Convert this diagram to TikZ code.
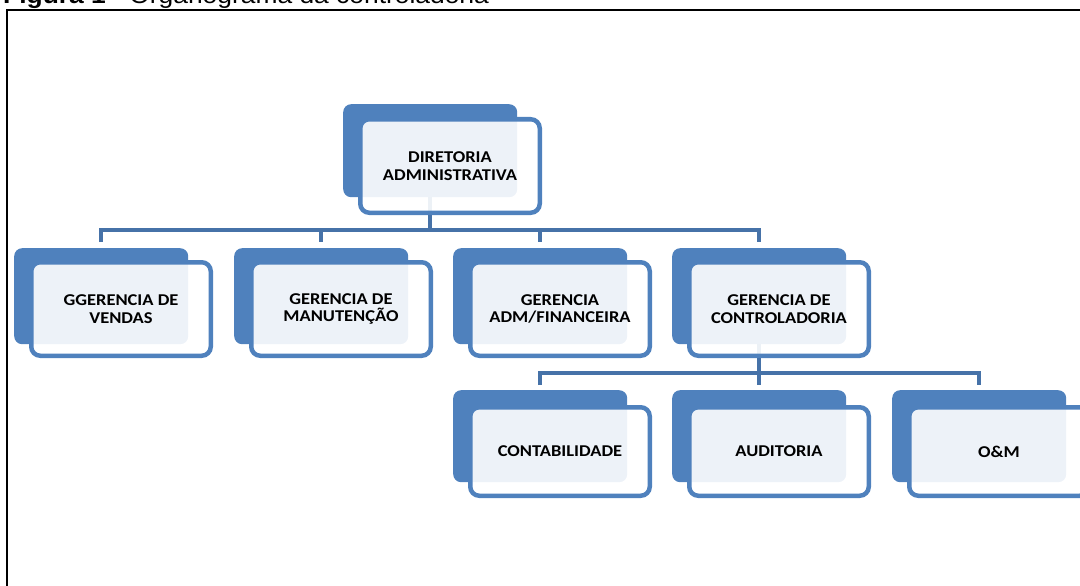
\documentclass[tikz,border=0pt]{standalone}
\usepackage{fontspec}
\newfontfamily\boxfont{Carlito}[FakeStretch=1.12]
\newfontfamily\titlefont{Liberation Sans}[FakeStretch=1.1]
\definecolor{unitblue}{HTML}{4F81BD}
\definecolor{linkblue}{HTML}{4672A8}
\tikzset{
  backbox/.style={draw=none, fill=unitblue, rounded corners=8pt, anchor=north west,
    minimum width=174pt, inner sep=0pt},
  frontbox/.style={draw=unitblue, line width=4.5pt, fill=white, fill opacity=0.9,
    text opacity=1, rounded corners=9pt, anchor=north west, minimum width=179.5pt,
    inner sep=0pt, align=center,
    font=\boxfont\bfseries\fontsize{16.5}{17.5}\selectfont},
  link/.style={draw=linkblue, line width=4.5pt, line join=miter},
}
\begin{document}
\begin{tikzpicture}[x=1pt,y=-1pt]
\useasboundingbox (0,0) rectangle (1080,586);
\clip (0,0) rectangle (1080,586);

% caption and frame
\node[anchor=base west, inner sep=0pt, font=\titlefont\fontsize{24}{28}\selectfont]
  (title) at (3,4) {\textbf{Figura 1} - Organograma da controladoria};
\draw[line width=2pt] (7,10) rectangle (1110,610);

% back panels
\node[backbox, minimum height=93pt] (b0) at (343,104) {};
\node[backbox, minimum height=96pt] (b1) at (14,248) {};
\node[backbox, minimum height=96pt] (b2) at (234,248) {};
\node[backbox, minimum height=96pt] (b3) at (453,248) {};
\node[backbox, minimum height=96pt] (b4) at (672,248) {};
\node[backbox, minimum height=92pt] (b5) at (453,390) {};
\node[backbox, minimum height=92pt] (b6) at (672,390) {};
\node[backbox, minimum height=92pt] (b7) at (892,390) {};

% connectors
\coordinate (bar1) at (0,230);
\coordinate (bar2) at (0,373);
\draw[link] (b0.south) -- (b0.south |- bar1);
\draw[link] ([yshift=6pt]b1.north) |- (b4.north |- bar1) -- ([yshift=6pt]b4.north);
\draw[link] (b2.north |- bar1) -- ([yshift=6pt]b2.north);
\draw[link] (b3.north |- bar1) -- ([yshift=6pt]b3.north);
\draw[link] (b4.south) -- (b4.south |- bar2);
\draw[link] ([yshift=5pt]b5.north) |- (b7.north |- bar2) -- ([yshift=5pt]b7.north);
\draw[link] (b6.north |- bar2) -- ([yshift=5pt]b6.north);

% front panels with labels
\node[frontbox, minimum height=93.5pt] (f0) at (358,117) {DIRETORIA\\ADMINISTRATIVA};
\node[frontbox, minimum height=93.5pt] (f1) at (29,260) {GGERENCIA DE\\VENDAS};
\node[frontbox, minimum height=93.5pt] (f2) at (249,260) {GERENCIA DE\\MANUTENÇÃO};
\node[frontbox, minimum height=93.5pt] (f3) at (468,260) {GERENCIA\\ADM/FINANCEIRA};
\node[frontbox, minimum height=93.5pt] (f4) at (687,260) {GERENCIA DE\\CONTROLADORIA};
\node[frontbox, minimum height=88.5pt] (f5) at (468,405) {CONTABILIDADE};
\node[frontbox, minimum height=88.5pt] (f6) at (687,405) {AUDITORIA};
\node[frontbox, minimum height=88.5pt] (f7) at (907,405) {O\&M};
\end{tikzpicture}
\end{document}
